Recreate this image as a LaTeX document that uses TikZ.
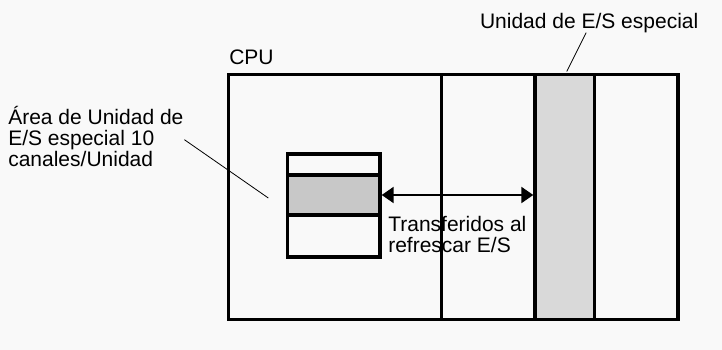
\documentclass[tikz,border=0pt]{standalone}
\usepackage{fontspec}
\setmainfont{Liberation Sans}
\usetikzlibrary{arrows.meta,positioning,calc}
\definecolor{paper}{RGB}{249,249,249}
\definecolor{slotgray}{RGB}{217,217,217}
\definecolor{wordgray}{RGB}{200,200,200}

\begin{document}
\begin{tikzpicture}[
    x=1pt, y=-1pt,
    every node/.style={font=\fontsize{21}{21}\selectfont, inner sep=0pt, outer sep=0pt},
    frame/.style={draw, line width=3.3pt},
    cell/.style={frame, minimum width=92.7pt},
    leader/.style={draw, line width=0.8pt},
    transfer/.style={{Triangle[length=12pt,width=16pt]}-{Triangle[length=12pt,width=16pt]}, line width=2.2pt}
]
\useasboundingbox[fill=paper] (0,0) rectangle (722,350);

% CPU rack and unit slot
\node[frame, minimum width=449.5pt, minimum height=245pt, anchor=north west] (rack) at (228.5,74.5) {};
\node[frame, fill=slotgray, minimum width=59.5pt, minimum height=245pt, anchor=north west] (sio) at (535,74.5) {};

% words of the unit area
\node[cell, minimum height=21pt, anchor=north west] (wtop) at (287.3,154) {};
\node[cell, fill=wordgray, minimum height=40pt, below=0pt of wtop] (wmid) {};
\node[cell, minimum height=42pt, below=0pt of wmid] (wbot) {};

% labels
\node[anchor=base west] (cpulbl) at (229.3,65) {CPU};
\node[anchor=base west] (siolbl) at (480,28.3) {Unidad de E/S especial};
\node[anchor=north west, align=left] (arealbl) at (8.3,106.5) {Área de Unidad de\\E/S especial 10\\canales/Unidad};
\node[anchor=north west, align=left] (xferlbl) at (388.3,216.5) {Transferidos al\\refrescar E/S};

% divider
\coordinate (div) at (441.7,74.5);
\draw[frame] (div) -- (div |- rack.south);

% connectors
\draw[transfer, shorten <=1.7pt, shorten >=1.7pt] (wmid.east) -- (wmid.east -| sio.west);
\draw[leader] ([xshift=-3pt]siolbl.south) -- ([xshift=2pt,yshift=3pt]sio.north);
\draw[leader] ([xshift=1pt,yshift=-3pt]arealbl.east) -- ([xshift=-19pt,yshift=-3pt]wmid.west);

\end{tikzpicture}
\end{document}
